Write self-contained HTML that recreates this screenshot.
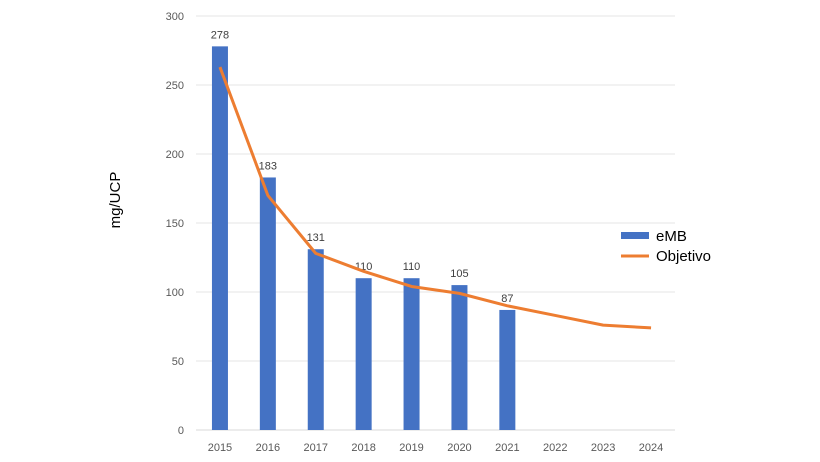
<!DOCTYPE html>
<html><head><meta charset="utf-8"><style>
body{margin:0;background:#fff;}
svg{display:block;font-family:"Liberation Sans",Arial,sans-serif;}
</style></head><body>
<svg id="chart" width="820" height="462"></svg>
<script>
const categories=["2015","2016","2017","2018","2019","2020","2021","2022","2023","2024"];
const embValues=[278,183,131,110,110,105,87,null,null,null];
const objetivoValues=[263,170,128,115,104,99,90,83,76,74];
const yTicks=[0,50,100,150,200,250,300];
const svg=document.getElementById('chart');
const NS='http://www.w3.org/2000/svg';
const x0=196,x1=675,yBase=430,yTop=16,yMax=300;
const step=(x1-x0)/categories.length;
const xc=i=>x0+step*(i+0.5);
const y=v=>yBase-(v/yMax)*(yBase-yTop);
function mk(tag,attrs,txt){const e=document.createElementNS(NS,tag);for(const k in attrs)e.setAttribute(k,attrs[k]);if(txt!=null)e.textContent=txt;svg.appendChild(e);return e;}
yTicks.forEach(t=>{
 const g=mk('line',{x1:x0,x2:x1,y1:y(t),y2:y(t),stroke:t===0?'#d9d9d9':'#e6e6e6','stroke-width':1});
 
 
 const l=mk('text',{x:184,y:y(t)+4,'text-anchor':'end','font-size':11,fill:'#595959'},t);
 
 
});
categories.forEach((c,i)=>{
 const l=mk('text',{x:xc(i),y:451,'text-anchor':'middle','font-size':11,fill:'#595959'},c);
 
 
 const v=embValues[i];
 if(v!=null){
  const b=mk('rect',{x:xc(i)-8,y:y(v),width:16,height:yBase-y(v),fill:'#4472c4'});
  
  
  const t=mk('text',{x:xc(i),y:y(v)-8,'text-anchor':'middle','font-size':11,fill:'#404040'},v);
  
  
 }
});
const pl=mk('polyline',{points:objetivoValues.map((v,i)=>xc(i)+','+y(v)).join(' '),fill:'none',stroke:'#ed7d31','stroke-width':3,'stroke-linejoin':'round'});


const yt=mk('text',{x:120,y:200,'text-anchor':'middle','font-size':15,fill:'#000',transform:'rotate(-90 120 200)'},'mg/UCP');


const lr=mk('rect',{x:621,y:232,width:28,height:7,fill:'#4472c4'});


const lt=mk('text',{x:656,y:241,'font-size':15,fill:'#000'},'eMB');


const ll=mk('line',{x1:621,x2:649,y1:256,y2:256,stroke:'#ed7d31','stroke-width':3});


const lt2=mk('text',{x:656,y:261,'font-size':15,fill:'#000'},'Objetivo');


</script>
</body></html>
